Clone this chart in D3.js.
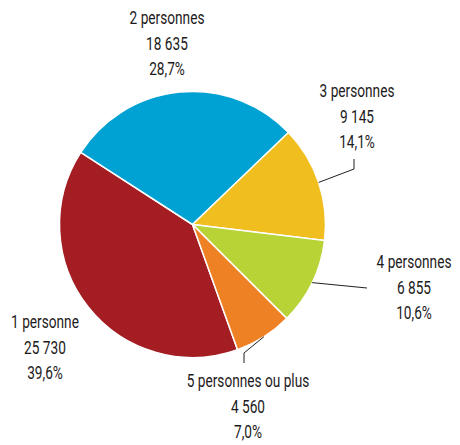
<!DOCTYPE html>
<html><head><meta charset="utf-8">
<script src="https://cdn.jsdelivr.net/npm/d3@7"></script>
<style>
html,body{margin:0;padding:0;background:#fff;}
text{font-family:Roboto,"Liberation Sans",sans-serif;font-size:18px;font-weight:400;fill:#1d1a1b;}
</style></head>
<body>
<svg id="c" width="460" height="445"></svg>
<script>
const categories = ["1 personne","2 personnes","3 personnes","4 personnes","5 personnes ou plus"];
const values = [25730, 18635, 9145, 6855, 4560];
const valueLabels = ["25 730","18 635","9 145","6 855","4 560"];
const percentLabels = ["39,6%","28,7%","14,1%","10,6%","7,0%"];
const colors = ["#A31D23","#00A1D3","#F1BE1F","#B8D335","#EF8125"];

// layout (label anchor: center x, first baseline y; leader end points)
const labelLayout = [
  {x:45,  y:328, leader:null},
  {x:167, y:24,  leader:null},
  {x:357, y:97,  leader:[[354,169],[354,159]]},
  {x:414, y:268, leader:[[367,288]]},
  {x:248, y:387, leader:[[244,353],[244,363]]}
];

const cx = 192.5, cy = 224.5, r = 133;
const svg = d3.select("#c");
const g = svg.append("g").attr("transform", `translate(${cx},${cy})`);
const start = 160.2 * Math.PI / 180;
const pie = d3.pie().sort(null).startAngle(start).endAngle(start + 2*Math.PI);
const arcs = pie(values);
const arc = d3.arc().innerRadius(0).outerRadius(r);

g.selectAll("path.slice").data(arcs).join("path")
  .attr("class","slice")
  .attr("d", arc)
  .attr("fill", (d,i)=>colors[i])
  .attr("stroke","#fff").attr("stroke-width",1.5).attr("stroke-linejoin","round");

// leader lines
arcs.forEach((d,i)=>{
  const L = labelLayout[i];
  if(!L.leader) return;
  const a = (d.startAngle + d.endAngle)/2;
  const p0 = [cx + r*Math.sin(a), cy - r*Math.cos(a)];
  const pts = [p0].concat(L.leader);
  svg.append("path").attr("d", d3.line()(pts))
    .attr("fill","none").attr("stroke","#231f20").attr("stroke-width",1);
});

// labels
categories.forEach((c,i)=>{
  const L = labelLayout[i];
  const t = svg.append("g").attr("transform", `translate(${L.x},${L.y}) scale(0.76,1)`)
    .append("text").attr("text-anchor","middle");
  [c, valueLabels[i], percentLabels[i]].forEach((s,k)=>{
    t.append("tspan").attr("x", 0).attr("y", k*25.7).text(s);
  });
});
</script>
</body></html>
